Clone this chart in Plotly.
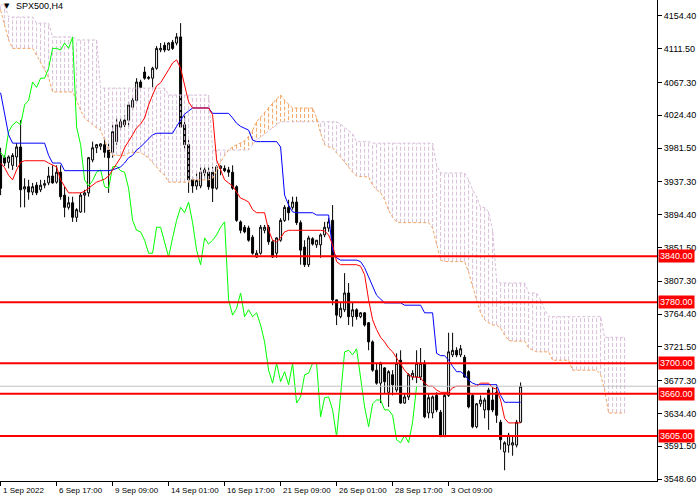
import plotly.graph_objects as go

# SPX500 H4 bars, index 0..130
opens = [3972, 3969, 3963, 3959, 3970, 3983, 3928, 3931, 3924, 3933,
         3927, 3933, 3936, 3945, 3937, 3950, 3920, 3904, 3910, 3891,
         3898, 3920, 3923, 3966, 3982, 3984, 3986, 3979, 3976, 3990,
         4009, 4018, 4018, 4035, 4044, 4068, 4081, 4074, 4073, 4086,
         4110, 4116, 4110, 4120, 4119, 4127, 4012, 3986, 3940, 3932,
         3932, 3949, 3950, 3950, 3929, 3955, 3955, 3953, 3950, 3931,
         3885, 3878, 3877, 3865, 3839, 3844, 3874, 3878, 3859, 3844,
         3861, 3887, 3904, 3904, 3911, 3884, 3852, 3829, 3863, 3855,
         3855, 3868, 3877, 3887, 3783, 3761, 3770, 3792, 3761, 3770,
         3761, 3766, 3753, 3728, 3691, 3674, 3694, 3662, 3685, 3665,
         3704, 3648, 3656, 3682, 3682, 3682, 3700, 3635, 3635, 3658,
         3636, 3604, 3658, 3711, 3717, 3711, 3708, 3689, 3658, 3617,
         3647, 3639, 3665, 3652, 3662, 3623, 3584, 3593, 3593, 3593,
         3623]
highs = [3982, 3972, 3972, 3975, 3988, 4018, 3942, 3940, 3936, 3937,
         3940, 3940, 3957, 3959, 3959, 3959, 3931, 3918, 3918, 3903,
         3923, 3927, 3970, 3990, 3987, 3988, 3995, 3988, 4012, 4021,
         4021, 4025, 4042, 4048, 4073, 4071, 4088, 4076, 4088, 4115,
         4119, 4120, 4120, 4123, 4132, 4145, 4025, 3992, 3944, 3949,
         3957, 3957, 3957, 3957, 3959, 3959, 3959, 3957, 3959, 3933,
         3887, 3881, 3880, 3868, 3848, 3881, 3881, 3881, 3861, 3865,
         3890, 3907, 3914, 3918, 3918, 3887, 3861, 3867, 3865, 3861,
         3870, 3885, 3890, 3907, 3783, 3779, 3818, 3805, 3779, 3772,
         3767, 3767, 3754, 3730, 3700, 3702, 3695, 3691, 3691, 3713,
         3717, 3661, 3687, 3691, 3717, 3720, 3704, 3661, 3658, 3662,
         3639, 3661, 3740, 3740, 3721, 3724, 3711, 3691, 3661, 3648,
         3658, 3655, 3668, 3669, 3672, 3626, 3598, 3609, 3606, 3626,
         3675]
lows = [3920, 3958, 3955, 3953, 3957, 3904, 3904, 3914, 3920, 3920,
        3924, 3929, 3933, 3935, 3935, 3914, 3891, 3901, 3885, 3885,
        3897, 3897, 3918, 3963, 3975, 3979, 3969, 3923, 3969, 3986,
        4005, 4009, 4009, 4031, 4042, 4060, 4071, 4071, 4061, 4084,
        4107, 4107, 4109, 4110, 4116, 4009, 3979, 3923, 3923, 3927,
        3929, 3942, 3927, 3911, 3927, 3946, 3950, 3944, 3927, 3885,
        3870, 3870, 3859, 3842, 3838, 3842, 3870, 3855, 3838, 3838,
        3859, 3885, 3887, 3901, 3881, 3829, 3826, 3826, 3854, 3851,
        3838, 3865, 3872, 3776, 3750, 3759, 3767, 3750, 3748, 3757,
        3759, 3748, 3717, 3689, 3672, 3648, 3661, 3643, 3658, 3662,
        3647, 3647, 3652, 3678, 3674, 3678, 3628, 3628, 3628, 3636,
        3604, 3604, 3656, 3708, 3708, 3708, 3681, 3641, 3615, 3615,
        3643, 3628, 3613, 3636, 3622, 3587, 3560, 3583, 3579, 3590,
        3622]
closes = [3929, 3962, 3970, 3972, 3983, 3927, 3931, 3924, 3931, 3923,
          3933, 3935, 3945, 3936, 3950, 3918, 3904, 3910, 3891, 3901,
          3920, 3923, 3969, 3982, 3986, 3987, 3976, 3969, 4003, 4012,
          4016, 4012, 4038, 4044, 4068, 4061, 4073, 4073, 4086, 4112,
          4112, 4110, 4119, 4112, 4127, 4009, 3986, 3940, 3932, 3939,
          3950, 3953, 3931, 3929, 3957, 3958, 3952, 3950, 3929, 3887,
          3874, 3872, 3861, 3844, 3844, 3878, 3878, 3859, 3839, 3864,
          3887, 3904, 3897, 3911, 3884, 3848, 3829, 3864, 3856, 3861,
          3868, 3878, 3885, 3783, 3763, 3772, 3792, 3761, 3770, 3761,
          3766, 3750, 3728, 3691, 3674, 3700, 3676, 3689, 3672, 3700,
          3648, 3656, 3685, 3687, 3700, 3700, 3630, 3655, 3656, 3639,
          3604, 3658, 3715, 3717, 3711, 3719, 3682, 3643, 3617, 3647,
          3652, 3652, 3639, 3639, 3632, 3600, 3596, 3606, 3596, 3623,
          3670]

# Ichimoku lines
tenkan = [3962, 3956, 3946, 3940, 3953, 3963, 3965, 3965, 3965, 3965,
          3965, 3965, 3962, 3959, 3957, 3940, 3931, 3923, 3923, 3923,
          3923, 3925, 3929, 3933, 3937, 3939, 3941, 3945, 3953, 3962,
          3969, 3982, 3990, 3999, 4008, 4013, 4021, 4038, 4051, 4063,
          4067, 4075, 4084, 4093, 4097, 4086, 4064, 4042, 4034, 4034,
          4034, 4034, 4034, 4025, 3966, 3953, 3940, 3936, 3932, 3924,
          3916, 3914, 3911, 3901, 3897, 3897, 3897, 3874, 3861, 3859,
          3864, 3872, 3874, 3874, 3874, 3874, 3874, 3874, 3874, 3874,
          3874, 3873, 3868, 3855, 3833, 3829, 3829, 3829, 3829, 3829,
          3827, 3816, 3783, 3757, 3744, 3734, 3728, 3720, 3715, 3707,
          3699, 3691, 3685, 3682, 3682, 3681, 3674, 3670, 3670, 3665,
          3662, 3662, 3662, 3668, 3670, 3670, 3670, 3670, 3670, 3670,
          3674, 3674, 3674, 3668, 3666, 3652, 3628, 3622, 3622, 3622,
          3622]
kijun = [4054, 4025, 3999, 3988, 3988, 3988, 3988, 3988, 3988, 3988,
         3988, 3988, 3972, 3962, 3962, 3962, 3952, 3952, 3952, 3952,
         3952, 3952, 3952, 3952, 3952, 3952, 3952, 3952, 3953, 3955,
         3957, 3962, 3969, 3972, 3979, 3983, 3988, 3993, 3999, 4001,
         4001, 4001, 4001, 4001, 4010, 4018, 4026, 4030, 4034, 4034,
         4034, 4034, 4034, 4027, 4027, 4027, 4027, 4027, 4021, 4014,
         4010, 4008, 4005, 3992, 3990, 3990, 3990, 3990, 3990, 3990,
         3983, 3920, 3907, 3898, 3897, 3897, 3897, 3897, 3897, 3894,
         3894, 3894, 3894, 3848, 3838, 3835, 3835, 3835, 3835, 3835,
         3833, 3825, 3813, 3800, 3789, 3784, 3779, 3779, 3779, 3779,
         3779, 3776, 3776, 3776, 3776, 3776, 3766, 3766, 3766, 3713,
         3710, 3710, 3704, 3696, 3689, 3689, 3685, 3678, 3674, 3672,
         3672, 3672, 3672, 3672, 3672, 3658, 3649, 3649, 3649, 3649,
         3649]
# senkou spans run 26 bars past the last candle (index 0..156)
span_a = [4162, 4143, 4123, 4112, 4112, 4112, 4112, 4112, 4112, 4103,
          4094, 4084, 4074, 4055, 4055, 4055, 4055, 4055, 4055, 4044,
          4031, 4021, 4016, 4012, 4008, 4005, 3992, 3979, 3972, 3972,
          3972, 3972, 3975, 3976, 3976, 3976, 3972, 3969, 3962, 3957,
          3950, 3946, 3937, 3937, 3937, 3937, 3937, 3937, 3940, 3940,
          3940, 3940, 3940, 3942, 3953, 3963, 3972, 3979, 3983, 3986,
          3988, 3991, 3997, 4005, 4016, 4022, 4029, 4035, 4041, 4046,
          4051, 4044, 4039, 4034, 4034, 4034, 4034, 4034, 4034, 4021,
          4001, 3986, 3983, 3982, 3975, 3970, 3963, 3957, 3950, 3945,
          3944, 3944, 3944, 3933, 3927, 3923, 3914, 3900, 3891, 3885,
          3884, 3884, 3884, 3884, 3884, 3884, 3884, 3884, 3877, 3855,
          3835, 3833, 3833, 3833, 3833, 3833, 3833, 3819, 3800, 3783,
          3766, 3757, 3753, 3750, 3750, 3746, 3737, 3730, 3729, 3729,
          3729, 3729, 3720, 3717, 3715, 3715, 3715, 3715, 3704, 3704,
          3704, 3704, 3704, 3691, 3691, 3691, 3691, 3691, 3691, 3691,
          3685, 3665, 3635, 3635, 3635, 3635, 3635]
span_b = [4169, 4169, 4153, 4153, 4153, 4153, 4153, 4153, 4153, 4145,
          4145, 4145, 4145, 4127, 4127, 4127, 4127, 4127, 4127, 4123,
          4123, 4123, 4123, 4123, 4123, 4060, 4060, 4060, 4060, 4060,
          4060, 4060, 4060, 4060, 4060, 4060, 4060, 4060, 4060, 4060,
          4060, 4060, 4051, 4051, 4051, 4051, 4051, 4051, 4051, 4051,
          4051, 4051, 4051, 3979, 3979, 3979, 3979, 3979, 3979, 3979,
          3979, 3979, 3979, 3986, 3992, 3996, 4000, 4004, 4008, 4012,
          4016, 4016, 4016, 4016, 4016, 4016, 4016, 4016, 4016, 4016,
          4016, 4016, 4016, 4016, 4016, 4013, 4009, 4005, 4000, 3990,
          3990, 3990, 3990, 3988, 3988, 3988, 3988, 3988, 3988, 3988,
          3988, 3988, 3988, 3988, 3988, 3988, 3988, 3988, 3988, 3959,
          3949, 3949, 3949, 3949, 3949, 3949, 3949, 3940, 3927, 3918,
          3904, 3904, 3898, 3874, 3809, 3805, 3805, 3805, 3805, 3805,
          3805, 3805, 3792, 3792, 3792, 3783, 3770, 3761, 3761, 3761,
          3761, 3761, 3761, 3761, 3761, 3761, 3761, 3761, 3761, 3761,
          3761, 3734, 3734, 3734, 3734, 3734, 3734]

levels = [3840, 3780, 3700, 3660, 3605]
bid = 3670
price_ticks = [4154.40, 4111.50, 4067.30, 4024.40, 3981.50, 3937.30, 3894.40,
               3851.50, 3807.30, 3764.40, 3721.50, 3677.30, 3634.40, 3591.50, 3548.60]
time_labels = ['1 Sep 2022', '6 Sep 17:00', '9 Sep 09:00', '14 Sep 01:00', '16 Sep 17:00',
               '21 Sep 09:00', '26 Sep 01:00', '28 Sep 17:00', '3 Oct 09:00']
time_label_bars = [0, 14, 28, 42, 56, 70, 84, 98, 112]
shift = 26

assert len(opens) == len(highs) == len(lows) == len(closes) == len(tenkan) == len(kijun) == 131
assert len(span_a) == len(span_b) == 157

bars = list(range(len(closes)))
cloud_bars = list(range(len(span_a)))

fig = go.Figure()

fig.add_trace(go.Candlestick(
    x=bars, open=opens, high=highs, low=lows, close=closes,
    increasing=dict(fillcolor='white', line=dict(color='black', width=1)),
    decreasing=dict(fillcolor='black', line=dict(color='black', width=1)),
    whiskerwidth=0, hoverinfo='skip'))

# cloud hatch: one dotted vertical per bar between the spans
for up, colour in [(True, '#F4A460'), (False, '#D8BFD8')]:
    hx, hy = [], []
    for i in cloud_bars:
        if (span_a[i] > span_b[i]) == up:
            hx += [i, i, None]
            hy += [span_a[i], span_b[i], None]
    fig.add_trace(go.Scatter(x=hx, y=hy, mode='lines',
                             line=dict(color=colour, width=1, dash='4px,2px'),
                             hoverinfo='skip'))

fig.add_trace(go.Scatter(x=cloud_bars, y=span_b, mode='lines',
                         line=dict(color='#D8BFD8', width=1, dash='3px,2px')))
fig.add_trace(go.Scatter(x=cloud_bars, y=span_a, mode='lines',
                         line=dict(color='#F4A460', width=1, dash='3px,2px')))

# chikou = close plotted 26 bars back
fig.add_trace(go.Scatter(x=bars[:-shift], y=closes[shift:], mode='lines',
                         line=dict(color='#00FF00', width=1)))
fig.add_trace(go.Scatter(x=bars, y=kijun, mode='lines', line=dict(color='#0000FF', width=1)))
fig.add_trace(go.Scatter(x=bars, y=tenkan, mode='lines', line=dict(color='#FF0000', width=1)))

fig.add_hline(y=bid, line=dict(color='#C0C0C0', width=1), layer='above')
for lv in levels:
    fig.add_hline(y=lv, line=dict(color='#FF0000', width=2), layer='above')
    fig.add_annotation(x=1, xref='paper', y=lv, yref='y', xanchor='left', xshift=1,
                       text=f'{lv:.2f}', showarrow=False, bgcolor='#FF0000',
                       font=dict(color='white', size=9, family='Liberation Sans'),
                       borderpad=1)

for b, lab in zip(time_label_bars, time_labels):
    fig.add_annotation(x=b, xref='x', y=0, yref='paper', yanchor='top', xanchor='left',
                       xshift=0, yshift=-3, text=lab, showarrow=False,
                       font=dict(color='black', size=8, family='Liberation Sans'))

fig.add_annotation(x=0, xref='paper', y=1, yref='paper', xanchor='left', yanchor='top',
                   xshift=2, yshift=0, text='▼', showarrow=False,
                   font=dict(color='black', size=7, family='DejaVu Sans'))
fig.add_annotation(x=0, xref='paper', y=1, yref='paper', xanchor='left', yanchor='top',
                   xshift=14, yshift=1, text='SPX500,H4', showarrow=False,
                   font=dict(color='black', size=9, family='Liberation Sans'))

fig.update_layout(
    width=698, height=500,
    margin=dict(l=0, r=41, t=0, b=19),
    paper_bgcolor='white', plot_bgcolor='white',
    showlegend=False,
    xaxis=dict(range=[-0.15, 164.1], showgrid=False, zeroline=False,
               showline=True, linecolor='black', linewidth=1,
               tickvals=time_label_bars, showticklabels=False,
               ticks='outside', ticklen=4, tickcolor='black',
               rangeslider=dict(visible=False), fixedrange=True),
    yaxis=dict(range=[3546.0, 4175.3], side='right', showgrid=False, zeroline=False,
               showline=True, linecolor='black', linewidth=1,
               tickvals=price_ticks, ticktext=[f'{p:.2f}' for p in price_ticks],
               ticks='outside', ticklen=4, tickcolor='black',
               tickfont=dict(color='black', size=9, family='Liberation Sans'),
               fixedrange=True),
)

# the page's default body margin would push the 698x500 figure off the window
fig.write_html('out.html', config={'displayModeBar': False},
               post_script="document.body.style.margin='0';")
